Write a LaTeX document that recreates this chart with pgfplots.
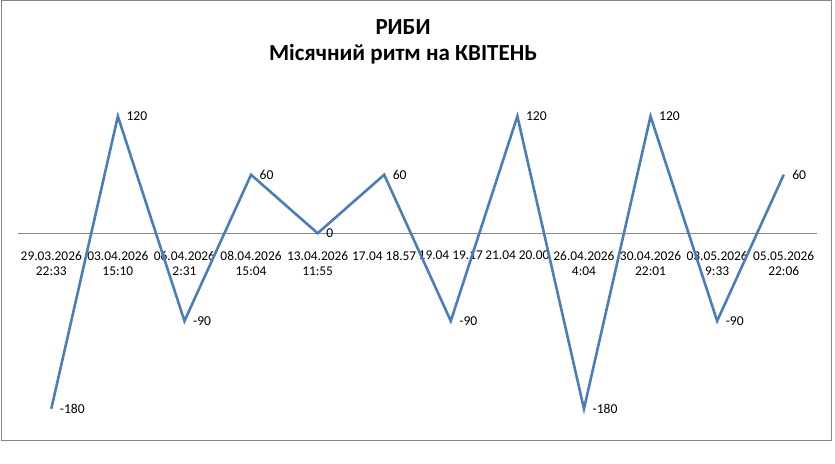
\documentclass[border=0pt]{standalone}
\usepackage{pgfplots}
\pgfplotsset{compat=1.18}
\usepackage{fontspec}
\setmainfont{Carlito}
\definecolor{exblue}{HTML}{4A7EBB}
\definecolor{axgray}{HTML}{868686}
\begin{document}
\begin{tikzpicture}[x=1pt,y=1pt]
\begin{axis}[
  at={(18pt,-438pt)}, anchor=south west,
  scale only axis, width=799pt, height=351pt,
  xmin=-0.5, xmax=11.5, ymin=-210, ymax=150,
  axis x line=middle, axis y line=none,
  axis line style={axgray, line width=0.8pt, -},
  xtick={0,...,11}, major tick length=0pt,
  ytick=\empty,
  xticklabels={{29.03.2026\\22:33},{03.04.2026\\15:10},{06.04.2026\\2:31},{08.04.2026\\15:04},{13.04.2026\\11:55},{17.04 18.57},{19.04 19.17},{21.04 20.00},{26.04.2026\\4:04},{30.04.2026\\22:01},{03.05.2026\\9:33},{05.05.2026\\22:06}},
  xticklabel style={font=\fontsize{13.4}{15.5}\selectfont, align=center, anchor=north, yshift=-14.5pt, text=black, inner xsep=0pt},
  clip=false,
  nodes near coords,
  every node near coord/.append style={font=\fontsize{13.6}{16}\selectfont, anchor=west, xshift=4pt, text=black},
  point meta=explicit symbolic,
]
\addplot[exblue, line width=2.6pt, mark=none, line join=miter] table[meta=label] {
x y label
0 -180 -180
1 120 120
2 -90 -90
3 60 60
4 0 0
5 60 60
6 -90 -90
7 120 120
8 -180 -180
9 120 120
10 -90 -90
11 60 60
};
\end{axis}
\draw[axgray, line width=1pt] (1pt,-0.5pt) rectangle (831pt,-440pt);
\node[font=\fontsize{23}{26}\selectfont\bfseries, align=center] at (403pt,-42pt) {РИБИ\\Місячний ритм на КВІТЕНЬ};
\pgfresetboundingbox
\path[use as bounding box] (0,0) rectangle (835pt,-463pt);
\end{tikzpicture}
\end{document}
